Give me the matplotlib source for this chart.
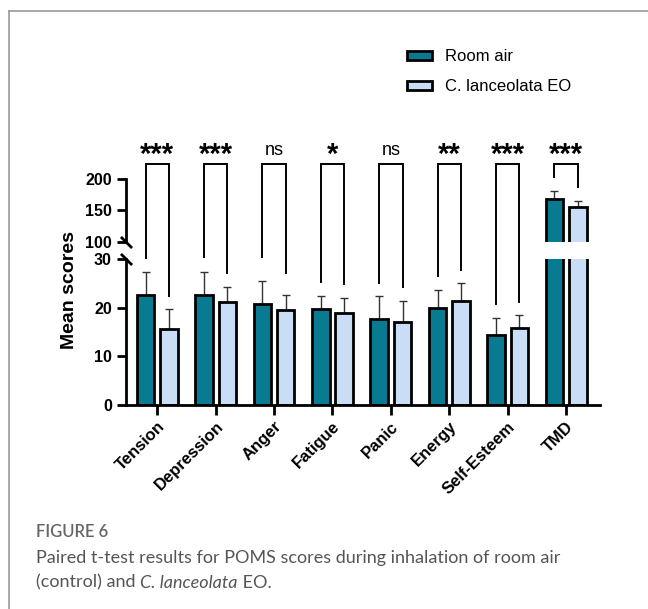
import numpy as np
import matplotlib.pyplot as plt
from matplotlib.patches import Patch
from matplotlib.lines import Line2D

categories = ['Tension', 'Depression', 'Anger', 'Fatigue', 'Panic', 'Energy', 'Self-Esteem', 'TMD']
room_air = [22.6, 22.7, 20.7, 19.7, 17.7, 20.0, 14.4, 168.6]
room_air_sd = [4.8, 4.7, 4.8, 2.7, 4.6, 3.7, 3.4, 11.8]
eo = [15.7, 21.1, 19.5, 19.0, 17.0, 21.4, 15.9, 154.9]
eo_sd = [4.0, 3.1, 3.2, 2.9, 4.3, 3.6, 2.5, 10.5]
signif = ['***', '***', 'ns', '*', 'ns', '**', '***', '***']
# where the bracket legs stop (lower scale for subscales, upper scale for TMD)
leg_left = [30.3, 30.4, 30.5, 25.2, 25.1, 26.6, 20.7, 203.7]
leg_right = [22.5, 27.1, 27.1, 24.9, 24.2, 27.7, 21.2, 187.7]
bracket_top = 223.4

teal = '#087b93'
light = '#c9ddf6'

plt.rcParams['font.family'] = ['Liberation Sans', 'DejaVu Sans']

fig = plt.figure(figsize=(6.48, 6.09), dpi=100)
ax_bot = fig.add_axes([0.1944, 0.335, 0.7315, 0.2397])
ax_top = fig.add_axes([0.1944, 0.6031, 0.7315, 0.1834])

x = np.arange(len(categories))
off, w = 0.2, 0.3
zeros = np.zeros(len(categories))

for ax in (ax_bot, ax_top):
    ax.bar(x - off, room_air, w, color=teal, edgecolor='black', linewidth=2, zorder=2)
    ax.bar(x + off, eo, w, color=light, edgecolor='black', linewidth=2, zorder=2)
    ax.errorbar(x - off, room_air, yerr=[zeros, room_air_sd], fmt='none', ecolor='#333333',
                elinewidth=1, capsize=3.2, capthick=1, zorder=1)
    ax.errorbar(x + off, eo, yerr=[zeros, eo_sd], fmt='none', ecolor='#333333',
                elinewidth=1, capsize=3.2, capthick=1, zorder=1)
    ax.set_xlim(-0.535, 7.58)
    for s in ('top', 'right'):
        ax.spines[s].set_visible(False)
    for s in ('left', 'bottom'):
        ax.spines[s].set_linewidth(2)
    ax.tick_params(axis='y', length=6.7, width=2, pad=3.5, labelsize=11.5)

ax_bot.set_ylim(0, 30)
ax_bot.set_yticks([0, 10, 20, 30])
ax_bot.spines['left'].set_bounds(0, 30)
ax_bot.set_xticks(x)
ax_bot.set_xticklabels(categories, rotation=45, ha='right', rotation_mode='anchor',
                       fontweight='bold', fontsize=12)
ax_bot.tick_params(axis='x', length=7, width=2, pad=3)

ax_top.set_ylim(100, 278.1)
ax_top.set_yticks([100, 150, 200])
ax_top.spines['left'].set_bounds(100, 200)
ax_top.spines['bottom'].set_visible(False)
ax_top.tick_params(axis='x', bottom=False, labelbottom=False)

for ax in (ax_bot, ax_top):
    for lab in ax.get_yticklabels():
        lab.set_fontweight('bold')

# axis break marks
brk = dict(marker=[(-1, 1), (1, -1)], markersize=8, mew=2, color='black', clip_on=False)
ax_top.plot([0], [100], transform=ax_top.get_yaxis_transform(), **brk)
ax_bot.plot([0], [30], transform=ax_bot.get_yaxis_transform(), **brk)


def lower_to_upper(xv, yv):
    # map a point on the lower scale into upper-axis data coordinates
    disp = ax_bot.transData.transform((xv, yv))
    return ax_top.transData.inverted().transform(disp)[1]


for i, lab in enumerate(signif):
    xl, xr = x[i] - off, x[i] + off
    if room_air[i] > 30:
        yl, yr = leg_left[i], leg_right[i]
    else:
        yl, yr = lower_to_upper(xl, leg_left[i]), lower_to_upper(xr, leg_right[i])
    ax_top.plot([xl, xl, xr, xr], [yl, bracket_top, bracket_top, yr], color='black',
                lw=1.4, clip_on=False, solid_joinstyle='miter', zorder=3)
    if lab == 'ns':
        ax_top.text(x[i], 239, lab, ha='center', va='baseline', fontsize=13)
    else:
        ax_top.text(x[i], 225, lab, ha='center', va='baseline', fontsize=21, fontweight='bold')

fig.text(0.108, 0.524, 'Mean scores', rotation=90, ha='center', va='center',
         fontweight='bold', fontsize=14)

handles = [Patch(facecolor=teal, edgecolor='black', linewidth=2, label='Room air'),
           Patch(facecolor=light, edgecolor='black', linewidth=2, label='C. lanceolata EO')]
fig.legend(handles=handles, loc='upper left', bbox_to_anchor=(0.6276, 0.9196), frameon=False,
           fontsize=12, handlelength=1.5, handleheight=0.45, handletextpad=0.8,
           labelspacing=0.92, borderpad=0, borderaxespad=0)

# page frame
fig.add_artist(Line2D([9 / 648, 1], [1 - 11 / 609] * 2, transform=fig.transFigure,
                      color='#9a9a9a', lw=1.2))
fig.add_artist(Line2D([9 / 648] * 2, [0, 1 - 11 / 609], transform=fig.transFigure,
                      color='#9a9a9a', lw=1.2))

# caption
cap = dict(family=['Lato', 'DejaVu Sans'], color='#555555', va='baseline')
fig.text(0.0556, 0.1182, 'FIGURE 6', fontsize=12, fontweight='semibold', color='#666666',
         family=['Lato', 'DejaVu Sans'], va='baseline')
fig.text(0.0556, 0.076, 'Paired t-test results for POMS scores during inhalation of room air',
         fontsize=13, **cap)
renderer = fig.canvas.get_renderer()
xpos = 0.0556
for piece, style in [('(control) and ', 'normal'), ('C. lanceolata', 'italic'), (' EO.', 'normal')]:
    t = fig.text(xpos, 0.035, piece, fontsize=13, style=style, **cap)
    bb = t.get_window_extent(renderer)
    xpos += bb.width / fig.bbox.width

fig.savefig('out.png', dpi=100)
